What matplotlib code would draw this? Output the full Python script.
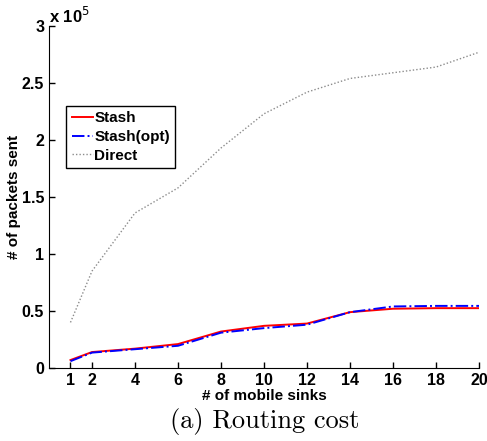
import matplotlib
matplotlib.use('Agg')
import matplotlib.pyplot as plt
from matplotlib.ticker import FuncFormatter

# number of mobile sinks
sinks = [1, 2, 4, 6, 8, 10, 12, 14, 16, 18, 20]

# packets sent
stash = [0.07e5, 0.14e5, 0.17e5, 0.21e5, 0.32e5, 0.37e5, 0.39e5, 0.49e5, 0.52e5, 0.525e5, 0.525e5]
stash_opt = [0.06e5, 0.135e5, 0.165e5, 0.195e5, 0.31e5, 0.35e5, 0.38e5, 0.49e5, 0.54e5, 0.545e5, 0.545e5]
direct = [0.40e5, 0.85e5, 1.36e5, 1.58e5, 1.93e5, 2.23e5, 2.42e5, 2.54e5, 2.59e5, 2.64e5, 2.77e5]

yticks = [0, 0.5e5, 1e5, 1.5e5, 2e5, 2.5e5, 3e5]

plt.rcParams['font.family'] = ['Liberation Sans', 'DejaVu Sans']

fig = plt.figure(figsize=(4.87, 4.41), dpi=100)
ax = fig.add_axes([0.1006, 0.1655, 0.883, 0.7755])

ax.plot(sinks, stash, color='red', linestyle='-', linewidth=1.4, label='Stash')
ax.plot(sinks, stash_opt, color='blue', linestyle='-.', linewidth=1.4, label='Stash(opt)')
ax.plot(sinks, direct, color='#8c8c8c', linestyle=(0, (1, 1.5)), linewidth=1.0, label='Direct')

ax.set_xlim(0, 20)
ax.set_ylim(0, 3e5)
ax.set_xticks(sinks)
ax.set_yticks(yticks)
ax.yaxis.set_major_formatter(FuncFormatter(lambda v, p: ('%g' % (v / 1e5))))

for s in ['top', 'right']:
    ax.spines[s].set_visible(False)
ax.tick_params(direction='in', length=4, labelsize=11.5, width=1)
for lab in ax.get_xticklabels() + ax.get_yticklabels():
    lab.set_fontweight('bold')

ax.set_xlabel('# of mobile sinks', fontsize=11, fontweight='bold', labelpad=1)
ax.set_ylabel('# of packets sent', fontsize=11, fontweight='bold')
ax.yaxis.set_label_coords(-0.066, 0.5)
ax.text(0.0, 1.0, r'x 10$^5$', transform=ax.transAxes, fontsize=12,
        fontweight='bold', va='bottom', ha='left')

leg = ax.legend(loc='upper left', bbox_to_anchor=(0.04, 0.766), fancybox=False,
                edgecolor='black', framealpha=1, borderpad=0.35, labelspacing=0.3,
                handlelength=1.4, handletextpad=0.1, borderaxespad=0,
                prop={'weight': 'bold', 'size': 11})
leg.get_frame().set_linewidth(1.0)

fig.text(0.544, 0.03, '(a) Routing cost', fontsize=19, family='cmr10',
         ha='center', va='baseline')

fig.savefig('out.png', dpi=100)
